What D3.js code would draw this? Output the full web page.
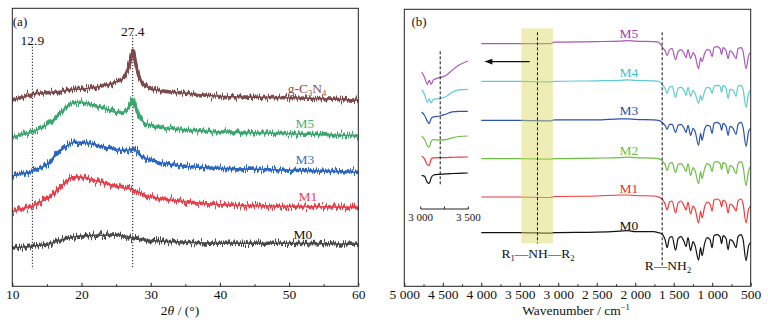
<!DOCTYPE html>
<html><head><meta charset="utf-8">
<script src="https://cdn.jsdelivr.net/npm/d3@7"></script>
<style>body{margin:0;background:#fff}svg{display:block}text{font-family:"Liberation Serif","Times New Roman",serif;fill:#111}</style>
</head><body><svg id="c" width="768" height="326"></svg>
<script>
// ---------- (a) XRD ----------
const xrdTheta = [10,11,12,12.9,14,15,16,17,18,19,20,21,22,23,24,25,26,26.5,27,27.4,27.8,28.3,29,30,32,35,38,40,45,50,55,60];
const xrdG  = [186.7,188,190,192.5,193,193.5,194,195,196,197,197,198,199,200.5,202,204.5,208,213,224,236,224,210,202,198,195,193,191,190,189,188.5,187.5,186];
const xrdM5 = [149.3,151,152.5,154.5,158,161.5,167,174,180,184,184,182.5,180.5,178.5,176,174,174,176,180,187,180,170,164,161,158.5,156.5,155,154.5,153.5,152.5,151.5,150.5];
const xrdM3 = [110.3,112,113.5,115,118,122,129,136,141,144,144,143,141.5,140,138,137,136,136,137,138,136,132,129,126,123,120,118.5,118,117,116,115,114];
const xrdM1 = [74.7,76.5,78.5,80.3,84,88,93,100,106,109.7,109,107.5,105.5,104,102,100,98.5,98,97.5,96.5,95.5,94,91.5,89.5,87,84.7,82.5,81.5,80.5,80,79.5,78.7];
const xrdM0 = [38,39,39.5,40.3,41,42,44,46,48,49.5,50.3,50.5,51,51,51.3,51.3,50.5,50,49,48,47.5,47,46.5,45.7,45,44,43.3,43,43,43,42.5,42];
const xrdNames = ["g-C3N4","M5","M3","M1","M0"];
const xrdMarks = [12.9, 27.4];
const xrdTicks = [10,20,30,40,50,60];
const xrdMinor = [15,25,35,45,55];

// ---------- (b) FTIR ----------
const wn = [4000,3500,3100,3050,2500,2200,2100,2000,1760,1700,1660,1640,1612,1586,1554,1521,1476,1443,1405,1366,1340,1314,1281,1249,1223,1177,1151,1132,1099,1067,1028,1002,976,937,898,878,859,820,794,768,729,690,664,625,599,560,527,500];
const irM0 = [0,0,-0.5,0,0.5,1.5,2,1,1,0,-1,-2.5,-7,-15,-5,-4,-17.5,-6,-4,-9,-14,-5,-18,-9,-13,-27.5,-15,-23,-11,-5,-7,-15,-3,-2,-4,-11,-3,-6,-17,-7,-9,-15,-4,-2,-7,-28,-13,-10];
const irM1 = [0,0,-0.5,0.5,1,2,2,1.5,1,0,-1.5,-3,-7,-13,-5,-4,-16,-6,-4,-9,-13,-5,-17,-9,-12,-26,-14,-21,-10,-5,-7,-14,-3,-2,-4,-10,-3,-6,-16,-7,-9,-14,-4,-2,-7,-26,-12,-9];
const irM2 = [0,0,-0.5,0,0.5,1,1.5,1,0.5,0,-1.5,-3,-6,-12,-5,-4,-14,-6,-5,-9,-13,-5,-17,-9,-12,-25,-13,-20,-10,-5,-7,-13,-4,-3,-5,-11,-4,-6,-15,-7,-9,-15,-5,-3,-8,-27,-12,-8];
const irM3 = [0,0,-0.5,0.5,0.5,1.5,1.5,1,0.5,0,-1.5,-3,-5,-9,-4,-4,-12,-5,-4,-8,-12,-5,-15,-8,-11,-25,-13,-20,-9,-5,-6,-13,-3,-2,-4,-10,-3,-6,-15,-6,-8,-14,-4,-2,-7,-26,-11,-8];
const irM4 = [0,0,-0.5,0,0.5,1,1.5,1,0.5,0,-2,-4,-7,-12,-6,-5,-16,-7,-6,-9,-14,-6,-15,-9,-12,-22,-14,-19,-10,-6,-7,-12,-5,-4,-5,-11,-4,-7,-17,-8,-9,-15,-5,-4,-8,-26,-12,-9];
const irM5 = [0,0,0,1.5,2,2.5,3,2.5,2,1.5,-2,-4.5,-7,-12,-6,-5,-16,-8,-6,-10,-14,-6,-15,-9,-12,-25,-14,-18,-10,-6,-7,-13,-4,-3,-5,-11,-4,-7,-15,-7,-10,-15,-5,-4,-8,-25,-12,-9];
const irNames = ["M5","M4","M3","M2","M1","M0"];
const irOffsets = [242.7,205,166,127.7,89.3,53.7];
// inset (3000–3500 cm-1)
const insWn = [3010,3040,3070,3090,3110,3135,3200,3260,3330,3400,3495];
const insM5 = [214.3,209,202,206,202,206.5,208.7,210.5,216,221,225.3];
const insM4 = [196.7,192,184,187.5,183.5,187,187.7,189.5,194,196.5,197];
const insM3 = [174.3,171,165,162.7,168,169.5,170.3,172,174.5,175,175];
const insM2 = [150,147,140.5,139.3,145,146.7,146.2,146.7,148.5,149.8,150.3];
const insM1 = [130,127.5,121.5,121,127.5,128.5,128.7,128.7,129,129.2,129.3];
const insM0 = [111,110,104,103,108.5,111.3,112,112.5,112.8,113,113.3];
const irTicks = [5000,4500,4000,3500,3000,2500,2000,1500,1000,500];
const irMinor = [4750,4250,3750,3250,2750,2250,1750,1250,750];
const irBand = [3480,3070];
const irMarks = [3270,1650];
const insMark = 3205;
const arrowWn = [3370,3960];

const FS = 13.5;
const svg = d3.select("#c");
const defs = svg.append("defs");

// ===== panel (a) =====
const xA = d3.scaleLinear([10,60],[12.3,358.3]);
const yA = d3.scaleLinear([0,278],[286.3,8.3]);
const colA = ["#7d4a4c","#3ba76f","#2a66c2","#e6404a","#4a4a4a"];
const labColA = ["#8a4f50","#45b07a","#3a72c8","#e8444c","#111"];
const xrdSeries = [xrdG,xrdM5,xrdM3,xrdM1,xrdM0];

xrdSeries.forEach((s,i)=>{
  const f = defs.append("filter").attr("id","nz"+i).attr("filterUnits","userSpaceOnUse")
    .attr("x",0).attr("y",0).attr("width",768).attr("height",326).attr("color-interpolation-filters","sRGB");
  f.append("feTurbulence").attr("type","fractalNoise").attr("baseFrequency","1.2 0.002").attr("numOctaves",2).attr("seed",i*7+3).attr("result","t");
  f.append("feColorMatrix").attr("in","t").attr("type","matrix").attr("values","1 0 0 0 0  0 0 0 0 0.5  0 0 0 0 0  0 0 0 0 1").attr("result","m");
  f.append("feDisplacementMap").attr("in","SourceGraphic").attr("in2","m").attr("scale",11).attr("xChannelSelector","G").attr("yChannelSelector","R");
});

const gA = svg.append("g");
const markTop = [46.7,35];
xrdMarks.forEach((m,i)=>{
  gA.append("line").attr("x1",xA(m)).attr("x2",xA(m)).attr("y1",markTop[i]).attr("y2",269)
    .attr("stroke","#111").attr("stroke-width",1).attr("stroke-dasharray","1.2,1.8");
  gA.append("text").attr("x",xA(m)).attr("y",i===0?44.5:36).attr("text-anchor","middle").attr("font-size",FS).text(m.toFixed(1));
});
const lineA = d3.line().x((d,j)=>xA(xrdTheta[j])).y(d=>yA(d)).curve(d3.curveMonotoneX);
xrdSeries.forEach((s,i)=>{
  const d = lineA(s);
  gA.append("path").attr("d",d).attr("fill","none").attr("stroke",colA[i]).attr("stroke-width",1.6);
  gA.append("path").attr("d",d).attr("fill","none").attr("stroke",colA[i]).attr("stroke-width",3.6)
    .attr("filter",`url(#nz${i})`);
});
const labA = [[307,92.5],[305,128],[305,163.5],[308,201],[303,238.5]];
xrdNames.forEach((n,i)=>{
  const t = gA.append("text").attr("x",labA[i][0]).attr("y",labA[i][1]).attr("text-anchor","middle").attr("font-size",FS).style("fill",labColA[i]);
  if(i===0){
    t.append("tspan").text("g-C");
    t.append("tspan").attr("font-size",8.5).attr("dy",3).text("3");
    t.append("tspan").attr("dy",-3).text("N");
    t.append("tspan").attr("font-size",8.5).attr("dy",3).text("4");
  } else t.text(n);
});
gA.append("rect").attr("x",12.3).attr("y",8.3).attr("width",346).attr("height",278).attr("fill","none").attr("stroke","#222").attr("stroke-width",1);
const axA = gA.append("g").attr("transform","translate(0,286.3)")
  .call(d3.axisBottom(xA).tickValues(xrdTicks).tickSize(-3.5).tickPadding(3.5).tickFormat(d3.format("d")));
const axA2 = gA.append("g").attr("transform","translate(0,286.3)")
  .call(d3.axisBottom(xA).tickValues(xrdMinor).tickSize(-2).tickFormat(""));
[axA,axA2].forEach(a=>{a.select(".domain").remove();a.selectAll("line").attr("stroke","#222");a.selectAll("text").attr("font-size",FS).attr("font-family","Liberation Serif").style("fill","#111");});
gA.append("text").attr("x",20).attr("y",25.5).attr("text-anchor","middle").attr("font-size",13).text("(a)");
const tA = gA.append("text").attr("x",180).attr("y",314.5).attr("text-anchor","middle").attr("font-size",FS);
tA.append("tspan").text("2");
tA.append("tspan").attr("font-style","italic").text("θ");
tA.append("tspan").text(" / (°)");

// ===== panel (b) =====
const xB = d3.scaleLinear([5000,500],[404.3,750.7]);
const yB = d3.scaleLinear([0,278],[286.3,8.3]);
const xI = d3.scaleLinear([3000,3500],[420.7,468.3]);
const colB = ["#a957b8","#5fc9d4","#2b52ae","#6cbf45","#f03a3a","#111"];
const labColB = ["#9c3fb0","#45c2cc","#2a50a8","#6cbf45","#ee3030","#111"];
const irSeries = [irM5,irM4,irM3,irM2,irM1,irM0];
const insSeries = [insM5,insM4,insM3,insM2,insM1,insM0];
const gB = svg.append("g");

const lineB = (off)=>d3.line().x((d,j)=>xB(wn[j])).y(d=>yB(d+off)).curve(d3.curveMonotoneX);
irSeries.forEach((s,i)=>{
  gB.append("path").attr("d",lineB(irOffsets[i])(s)).attr("fill","none").attr("stroke",colB[i]).attr("stroke-width",1.2);
});
const lineI = d3.line().x((d,j)=>xI(insWn[j])).y(d=>yB(d)).curve(d3.curveMonotoneX);
insSeries.forEach((s,i)=>{
  gB.append("path").attr("d",lineI(s)).attr("fill","none").attr("stroke",colB[i]).attr("stroke-width",1.2);
});
gB.append("rect").attr("x",xB(irBand[0])).attr("width",xB(irBand[1])-xB(irBand[0]))
  .attr("y",yB(258)).attr("height",yB(43)-yB(258)).attr("fill","#d6d65a").attr("opacity",0.45);
const markRanges = [[254,43],[254,21]];
irMarks.forEach((m,i)=>{
  gB.append("line").attr("x1",xB(m)).attr("x2",xB(m)).attr("y1",yB(markRanges[i][0])).attr("y2",yB(markRanges[i][1]))
    .attr("stroke","#111").attr("stroke-width",1).attr("stroke-dasharray","3,2");
});
gB.append("line").attr("x1",xI(insMark)).attr("x2",xI(insMark)).attr("y1",yB(235)).attr("y2",yB(102))
  .attr("stroke","#111").attr("stroke-width",1).attr("stroke-dasharray","3,2");
const ay = yB(224.7);
gB.append("line").attr("x1",xB(arrowWn[0])).attr("x2",xB(arrowWn[1])+6).attr("y1",ay).attr("y2",ay).attr("stroke","#111").attr("stroke-width",1.1);
gB.append("path").attr("d",`M${xB(arrowWn[1])},${ay} l8,-2.8 l0,5.6 z`).attr("fill","#111");
const sbY = 209;
gB.append("line").attr("x1",xI(3000)).attr("x2",xI(3500)).attr("y1",sbY).attr("y2",sbY).attr("stroke","#222");
[3000,3250,3500].forEach(v=>gB.append("line").attr("x1",xI(v)).attr("x2",xI(v)).attr("y1",sbY).attr("y2",sbY-2.5).attr("stroke","#222"));
[3000,3500].forEach(v=>gB.append("text").attr("x",xI(v)).attr("y",220.5).attr("text-anchor","middle").attr("font-size",11).text(d3.format(",")(v).replace(","," ")));
const labBy = [38,76.5,115,155,193,229.5];
irNames.forEach((n,i)=>gB.append("text").attr("x",629).attr("y",labBy[i]).attr("text-anchor","middle").attr("font-size",FS).style("fill",labColB[i]).text(n));
const r1 = gB.append("text").attr("x",538).attr("y",257.5).attr("text-anchor","middle").attr("font-size",FS);
r1.append("tspan").text("R");
r1.append("tspan").attr("font-size",8.5).attr("dy",3).text("1");
r1.append("tspan").attr("dy",-3).text("—NH—R");
r1.append("tspan").attr("font-size",8.5).attr("dy",3).text("2");
const r2 = gB.append("text").attr("x",668).attr("y",269.5).attr("text-anchor","middle").attr("font-size",FS);
r2.append("tspan").text("R—NH");
r2.append("tspan").attr("font-size",8.5).attr("dy",3).text("2");
gB.append("rect").attr("x",404.3).attr("y",9.3).attr("width",346.4).attr("height",277).attr("fill","none").attr("stroke","#222").attr("stroke-width",1);
const fmtB = d=>d3.format(",")(d).replace(","," ");
const axB = gB.append("g").attr("transform","translate(0,286.3)")
  .call(d3.axisBottom(xB).tickValues(irTicks).tickSize(-3.5).tickPadding(3.5).tickFormat(fmtB));
const axB2 = gB.append("g").attr("transform","translate(0,286.3)")
  .call(d3.axisBottom(xB).tickValues(irMinor).tickSize(-2).tickFormat(""));
[axB,axB2].forEach(a=>{a.select(".domain").remove();a.selectAll("line").attr("stroke","#222");a.selectAll("text").attr("font-size",FS).attr("font-family","Liberation Serif").style("fill","#111");});
gB.append("text").attr("x",419).attr("y",26).attr("text-anchor","middle").attr("font-size",13).text("(b)");
const tB = gB.append("text").attr("x",576).attr("y",314.5).attr("text-anchor","middle").attr("font-size",FS);
tB.append("tspan").text("Wavenumber / cm");
tB.append("tspan").attr("font-size",8.5).attr("dy",-5).text("−1");
</script></body></html>
